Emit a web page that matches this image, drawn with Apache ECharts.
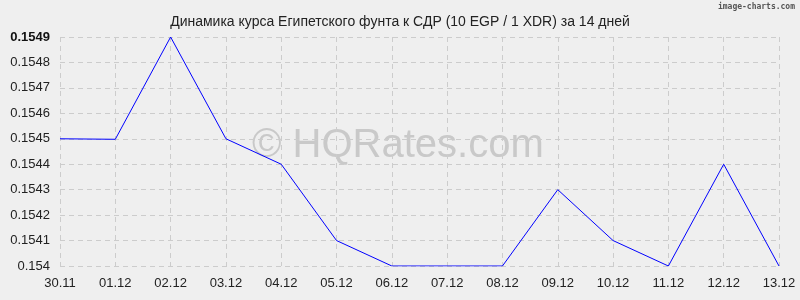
<!DOCTYPE html>
<html><head><meta charset="utf-8">
<script src="https://cdn.jsdelivr.net/npm/echarts@6/dist/echarts.min.js"></script>
<style>html,body{margin:0;padding:0;background:#efefef}#c{width:800px;height:300px}</style>
</head><body><div id="c"></div>
<script>
var categories = ["30.11","01.12","02.12","03.12","04.12","05.12","06.12","07.12","08.12","09.12","10.12","11.12","12.12","13.12"];
var rates = [0.15450,0.154498,0.15490,0.15450,0.15440,0.15410,0.15400,0.15400,0.15400,0.15430,0.15410,0.15400,0.15440,0.15400];
var titleText = "Динамика курса Египетского фунта к СДР (10 EGP / 1 XDR) за 14 дней";
var chart = echarts.init(document.getElementById('c'), null, {renderer:'canvas'});
chart.setOption({
  backgroundColor:'#efefef',
  animation:false,
  title:{text:titleText,left:'center',top:10,textStyle:{fontFamily:'Liberation Sans, Arial',fontSize:14,fontWeight:'normal',color:'#222'}},
  graphic:[
    {type:'text',left:252,top:126,z:0,style:{text:'© HQRates.com',fontFamily:'Liberation Sans, Arial',fontSize:40,fill:'#c9c9c9'}},
    {type:'text',right:5,top:3,style:{text:'image-charts.com',fontFamily:'DejaVu Sans Mono, monospace',fontSize:8,fontWeight:'bold',fill:'#555'}}
  ],
  grid:{left:60,right:21,top:37,bottom:34},
  xAxis:{type:'category',data:categories,boundaryGap:false,
    axisLine:{show:false},axisTick:{show:false},
    axisLabel:{fontFamily:'Liberation Sans, Arial',fontSize:13,color:'#222',margin:11,showMinLabel:true,showMaxLabel:true,interval:0},
    splitLine:{show:true,lineStyle:{color:'#cccccc',type:[5,4]}}},
  yAxis:{type:'value',min:0.154,max:0.1549,interval:0.0001,
    axisLine:{show:false},axisTick:{show:false},
    axisLabel:{fontFamily:'Liberation Sans, Arial',fontSize:13,color:'#222',margin:10,
      formatter:function(v){var s=(Math.round(v*10000)/10000).toString();return s==='0.1549'?'{b|'+s+'}':s;},
      rich:{b:{fontFamily:'Liberation Sans, Arial',fontSize:13,fontWeight:'bold',color:'#111'}}},
    splitLine:{show:true,lineStyle:{color:'#cccccc',type:[5,4]}}},
  series:[{type:'line',data:rates,symbol:'none',lineStyle:{color:'#0000ff',width:1},z:5}]
});
</script></body></html>
